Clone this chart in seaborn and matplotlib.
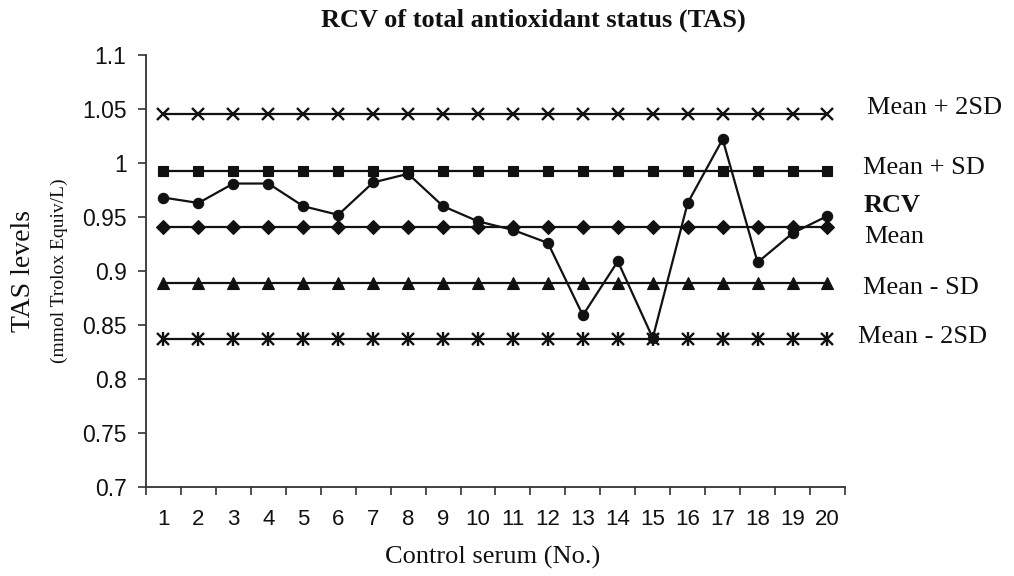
import pandas as pd
import matplotlib.pyplot as plt
import matplotlib.transforms as mtransforms
import seaborn as sns

# control serum numbers and measured TAS (RCV series)
serum_no = list(range(1, 21))
rcv = [0.968, 0.963, 0.981, 0.981, 0.960, 0.952, 0.982, 0.990, 0.960, 0.946,
       0.938, 0.926, 0.859, 0.909, 0.838, 0.963, 1.022, 0.908, 0.935, 0.951]

# control limits
level_names = ['Mean + 2SD', 'Mean + SD', 'Mean', 'Mean - SD', 'Mean - 2SD']
level_values = [1.045, 0.993, 0.941, 0.889, 0.837]
level_markers = ['x', 's', 'D', '^', 'x']

y_ticks = [0.7, 0.75, 0.8, 0.85, 0.9, 0.95, 1.0, 1.05, 1.1]
y_tick_labels = ['0.7', '0.75', '0.8', '0.85', '0.9', '0.95', '1', '1.05', '1.1']

sns.set_style('white')
plt.rcParams['font.family'] = ['Liberation Serif', 'DejaVu Serif']

serif = 'Liberation Serif'
sans = 'Liberation Sans'
ink = '#111111'

fig = plt.figure(figsize=(10.14, 5.76), dpi=100)
ax = fig.add_axes([0.144, 0.1545, 0.6893, 0.75])

# limit lines
sizes = {'x': 9, 's': 7, 'D': 7.5, '^': 9}
for name, val, mk in zip(level_names, level_values, level_markers):
    df = pd.DataFrame({'serum': serum_no, 'tas': [val] * len(serum_no)})
    sns.lineplot(data=df, x='serum', y='tas', ax=ax, color=ink, linewidth=1.6,
                 marker=mk, markersize=sizes[mk], markeredgewidth=1.7 if mk == 'x' else 0.8,
                 markeredgecolor=ink, markerfacecolor=ink)
    if name == 'Mean - 2SD':
        # star marker = x with a vertical bar
        sns.lineplot(data=df, x='serum', y='tas', ax=ax, color=ink, linewidth=0,
                     marker='|', markersize=10, markeredgewidth=1.7, markeredgecolor=ink)

# RCV series
rcv_df = pd.DataFrame({'serum': serum_no, 'tas': rcv})
sns.lineplot(data=rcv_df, x='serum', y='tas', ax=ax, color=ink, linewidth=1.6,
             marker='o', markersize=7.5, markeredgecolor=ink, markerfacecolor=ink)

ax.set_xlim(0.5, 20.5)
ax.set_ylim(0.7, 1.1)
ax.set_xlabel('')
ax.set_ylabel('')

ax.set_xticks(serum_no)
ax.set_xticklabels([str(n) for n in serum_no], fontfamily=sans, fontsize=16, color=ink)
ax.set_xticks([n - 0.5 for n in serum_no] + [20.5], minor=True)
ax.tick_params(axis='x', which='major', length=0, pad=16)
ax.tick_params(axis='x', which='minor', length=6, width=1.2, direction='out', color='#333333', bottom=True)

ax.set_yticks(y_ticks)
ax.set_yticklabels(y_tick_labels, fontfamily=sans, fontsize=16.5, color=ink)
ax.tick_params(axis='y', length=6, width=1.2, direction='out', color='#333333', pad=8, left=True)

for side in ['top', 'right']:
    ax.spines[side].set_visible(False)
for side in ['left', 'bottom']:
    ax.spines[side].set_color('#333333')
    ax.spines[side].set_linewidth(1.3)

# labels to the right of the lines
trans = mtransforms.blended_transform_factory(ax.transAxes, ax.transData)
right_labels = [('Mean + 2SD', 1.031, 1.051, 'normal'),
                ('Mean + SD', 1.026, 0.9954, 'normal'),
                ('RCV', 1.026, 0.9611, 'bold'),
                ('Mean', 1.028, 0.9315, 'normal'),
                ('Mean - SD', 1.026, 0.8843, 'normal'),
                ('Mean - 2SD', 1.019, 0.8389, 'normal')]
for txt, xa, yd, wt in right_labels:
    ax.text(xa, yd, txt, transform=trans, ha='left', va='center',
            fontfamily=serif, fontsize=19, fontweight=wt, color=ink, clip_on=False)

fig.text(0.526, 0.953, 'RCV of total antioxidant status (TAS)', ha='center', va='baseline',
         fontfamily=serif, fontsize=19, fontweight='bold', color=ink)
fig.text(0.486, 0.033, 'Control serum (No.)', ha='center', va='center',
         fontfamily=serif, fontsize=19, color=ink)
fig.text(0.023, 0.5295, 'TAS levels', rotation=90, ha='center', va='center',
         fontfamily=serif, fontsize=20, color=ink)
fig.text(0.059, 0.5295, '(mmol Trolox Equiv/L)', rotation=90, ha='center', va='center',
         fontfamily=serif, fontsize=14, color=ink)

fig.savefig('out.png', dpi=100, facecolor='white')
